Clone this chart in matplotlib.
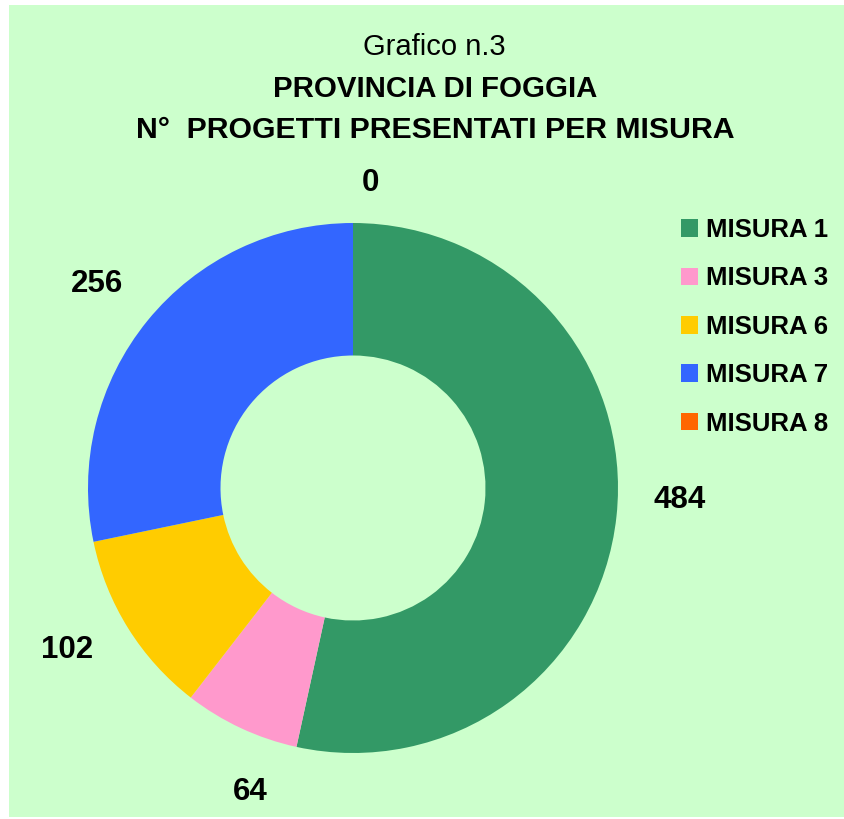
import matplotlib
matplotlib.use("Agg")
import matplotlib.pyplot as plt
from matplotlib.patches import Rectangle

# ---- data ----
categories = ["MISURA 1", "MISURA 3", "MISURA 6", "MISURA 7", "MISURA 8"]
values = [484, 64, 102, 256, 0]
colors = ["#339966", "#FF99CC", "#FFCC00", "#3366FF", "#FF6600"]
title_lines = ["Grafico n.3", "PROVINCIA DI FOGGIA", "N°  PROGETTI PRESENTATI PER MISURA"]

# label positions (layout, axes units where outer radius = 1)
label_xy = [(1.234, -0.045), (-0.389, -1.147), (-1.079, -0.611), (-0.966, 0.770), (0.064, 1.151)]

plt.rcParams["font.family"] = ["Liberation Sans", "DejaVu Sans"]

W, H = 845, 819
fig = plt.figure(figsize=(W / 100, H / 100), dpi=100)
fig.patch.set_facecolor("white")
bg = Rectangle((9 / W, 2 / H), 1 - 9 / W, 1 - 7 / H, transform=fig.transFigure,
               facecolor="#CCFFCC", edgecolor="none", zorder=-10)
fig.patches.append(bg)

cx, cy, R = 353, 488, 265
ax = fig.add_axes([(cx - R) / W, (H - cy - R) / H, 2 * R / W, 2 * R / H])
ax.set_zorder(1)
ax.set_facecolor("none")
wedges, _ = ax.pie(values, colors=colors, startangle=90, counterclock=False, radius=1.0,
                   wedgeprops=dict(width=0.5, edgecolor="none", linewidth=0))
ax.set_xlim(-1, 1)
ax.set_ylim(-1, 1)
ax.set_aspect("equal")
ax.axis("off")

for v, (x, y) in zip(values, label_xy):
    ax.text(x, y, str(v), ha="center", va="center", fontsize=22.5, fontweight="bold", color="black")

# titles
fig.text(434 / W, 1 - 55 / H, title_lines[0], ha="center", va="baseline", fontsize=21)
fig.text(435 / W, 1 - 97 / H, title_lines[1], ha="center", va="baseline", fontsize=21.2, fontweight="bold")
fig.text(435 / W, 1 - 138 / H, title_lines[2], ha="center", va="baseline", fontsize=21.8, fontweight="bold")

leg = fig.legend(wedges, categories, loc="upper left", bbox_to_anchor=(681 / W, 1 - 218 / H),
                 frameon=False, prop=dict(weight="bold", size=18.5),
                 handlelength=0.68, handleheight=0.68, handletextpad=0.3, labelspacing=0.95,
                 borderaxespad=0, borderpad=0)
leg.set_zorder(2)

fig.savefig("out.png", dpi=100, facecolor=fig.get_facecolor())
